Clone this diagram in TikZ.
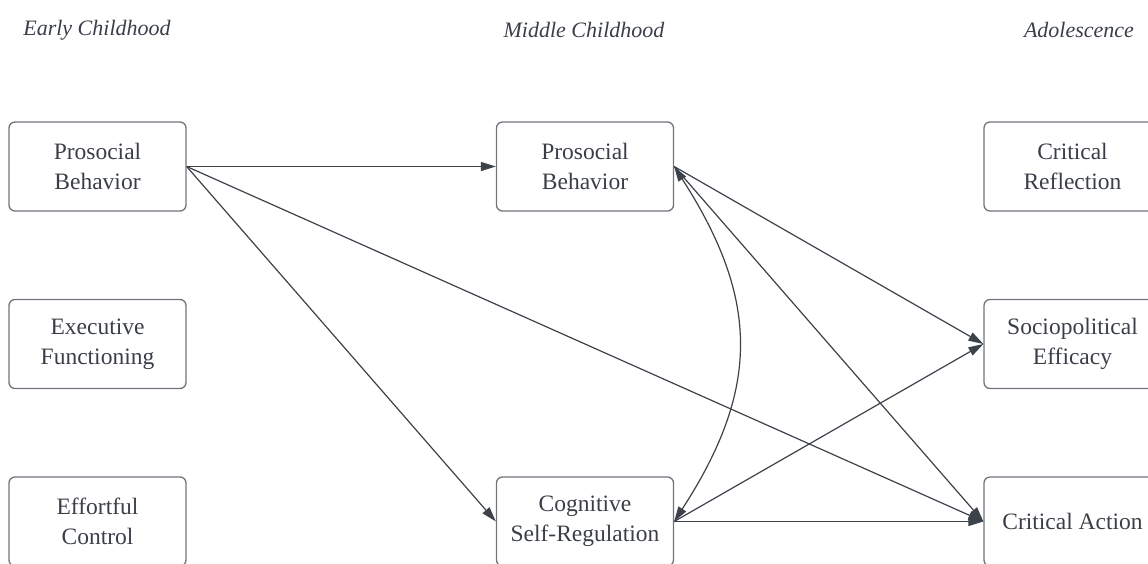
\documentclass[tikz,border=0pt]{standalone}
\usepackage{fontspec}
\setmainfont{Liberation Serif}
\usetikzlibrary{arrows.meta}
\definecolor{boxgray}{HTML}{70757C}
\definecolor{linegray}{HTML}{3C424A}
\definecolor{txtgray}{HTML}{3A3F47}
\begin{document}
\begin{tikzpicture}[x=1pt,y=-1pt,
  box/.style={draw=boxgray,line width=1.3pt,rounded corners=6pt,minimum width=177pt,minimum height=89pt,
    align=center,text=txtgray,font=\fontsize{23.5}{30}\selectfont,inner sep=0pt},
  hdr/.style={text=txtgray,font=\fontsize{22}{26}\selectfont\itshape,inner sep=0pt},
  conn/.style={draw=linegray,line width=1.2pt,-{Triangle[length=15pt,width=9pt]}},
  conn2/.style={draw=linegray,line width=1.2pt,{Triangle[length=15pt,width=9pt]}-{Triangle[length=15pt,width=9pt]}}]
\useasboundingbox (0,0) rectangle (1148,563);
\node[hdr] (h1) at (97,30) {Early Childhood};
\node[hdr] (h2) at (584,30) {Middle Childhood};
\node[hdr] (h3) at (1079,30) {Adolescence};
\node[box] (lp) at (97.5,166.5) {Prosocial\\Behavior};
\node[box] (le) at (97.5,344) {Executive\\Functioning};
\node[box] (lc) at (97.5,521.5) {Effortful\\Control};
\node[box] (mp) at (585,166.5) {Prosocial\\Behavior};
\node[box] (mc) at (585,521.5) {Cognitive\\Self-Regulation};
\node[box] (rr) at (1072.5,166.5) {Critical\\Reflection};
\node[box] (rs) at (1072.5,344) {Sociopolitical\\Efficacy};
\node[box] (ra) at (1072.5,521.5) {Critical Action};
\draw[conn] (lp.east) -- (mp.west);
\draw[conn] (lp.east) -- (mc.west);
\draw[conn] (lp.east) -- (ra.west);
\draw[conn] (mp.east) -- (rs.west);
\draw[conn] (mp.east) -- (ra.west);
\draw[conn] (mc.east) -- (rs.west);
\draw[conn] (mc.east) -- (ra.west);
\draw[conn2] (mp.east) .. controls (760,300) and (760,389) .. (mc.east);
\end{tikzpicture}
\end{document}
